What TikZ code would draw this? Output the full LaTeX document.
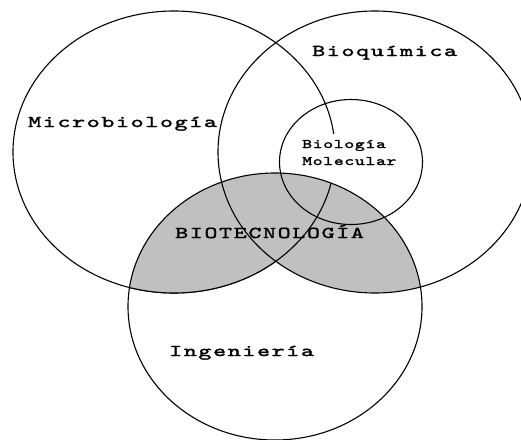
\documentclass[tikz,border=0pt]{standalone}
\usepackage{fontspec}
\newfontfamily\labfont[LetterSpace=10,FakeStretch=1.5,FakeBold=2]{lmmono10-regular.otf}
\newfontfamily\smallfont[LetterSpace=5,FakeStretch=1.45,FakeBold=2]{lmmono10-regular.otf}
\definecolor{lensgrey}{RGB}{192,192,192}
\tikzset{
  outline/.style={draw=black, line width=1.1pt},
  greyfill/.style={fill=lensgrey},
  microR/.style={x radius=161pt, y radius=141pt},
  bioR/.style={x radius=157pt, y radius=141pt},
  ingR/.style={x radius=147pt, y radius=133.5pt},
  smallR/.style={x radius=71.5pt, y radius=62.5pt},
  lab/.style={inner sep=0pt, anchor=base west, font=\labfont\fontsize{16.5}{18}\selectfont},
  smalllab/.style={inner sep=0pt, anchor=base west, font=\smallfont\fontsize{13}{15}\selectfont}
}
\begin{document}
\begin{tikzpicture}[x=1pt,y=-1pt]
\useasboundingbox (0,0) rectangle (521,439);
\clip (0,0) rectangle (521,439);
\coordinate (cM) at (174,152);
\coordinate (cB) at (375,152);
\coordinate (cI) at (275,306.5);
\coordinate (cS) at (351,162);
% Microbiologia outline (below the white label box)
\draw[outline] (cM) ellipse [microR];
\fill[white] (300,134) rectangle (398,192);
% grey lens: Ingenieria intersected with the union of the two upper ellipses
\begin{scope}
  \clip (cI) ellipse [ingR];
  \fill[greyfill] (cM) ellipse [microR];
  \fill[greyfill] (cB) ellipse [bioR];
  \draw[outline] (cM) ellipse [microR];
\end{scope}
\draw[outline] (cB) ellipse [bioR];
\draw[outline] (cS) ellipse [smallR];
\draw[outline] (cI) ellipse [ingR];
% labels
\node[lab] (micro) at (28,127) {Microbiología};
\node[lab] (bioq) at (312,56) {Bioquímica};
\node[smalllab] (biol) at (302,148) {Biología};
\node[smalllab] (molec) at (302,165) {Molecular};
\node[lab] (biotec) at (175,238) {BIOTECNOLOGÍA};
\node[lab] (ing) at (169,356) {Ingeniería};
\end{tikzpicture}
\end{document}
